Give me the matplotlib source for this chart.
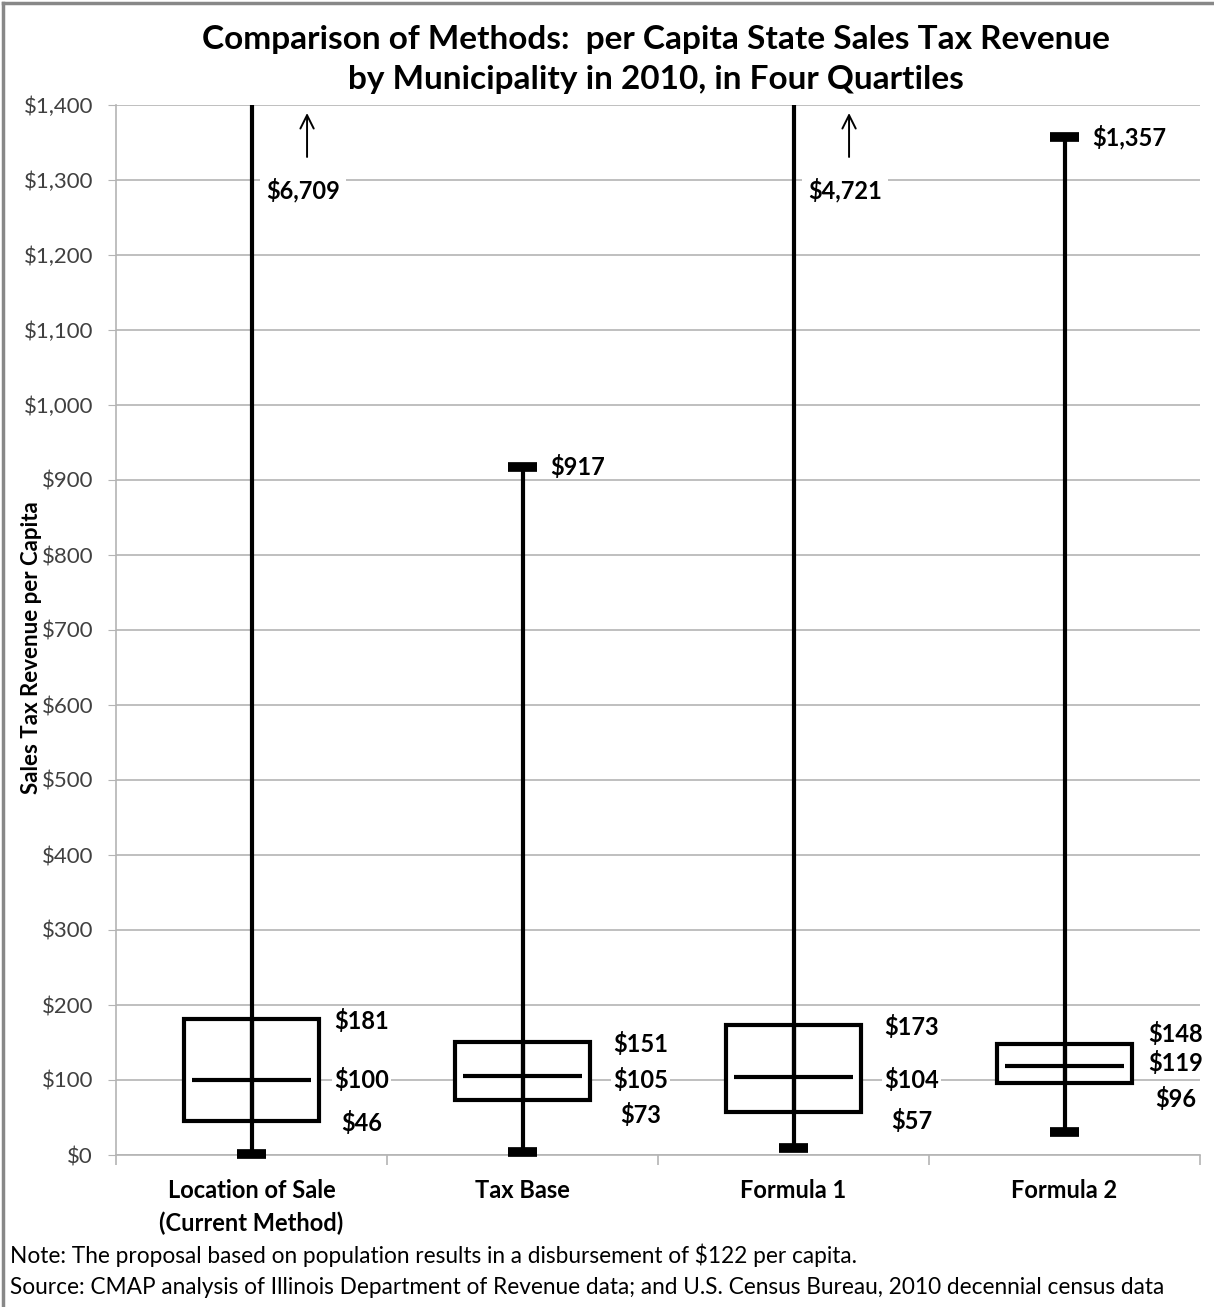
import matplotlib
matplotlib.use("Agg")
import matplotlib.pyplot as plt
from matplotlib.patches import Rectangle
from matplotlib.lines import Line2D
from matplotlib.ticker import FuncFormatter, MultipleLocator

# ---- data ----
categories = ["Location of Sale\n(Current Method)", "Tax Base", "Formula 1", "Formula 2"]
mins = [1, 4, 10, 31]
q1 = [46, 73, 57, 96]
medians = [100, 105, 104, 119]
q3 = [181, 151, 173, 148]
maxs = [6709, 917, 4721, 1357]
ymax = 1400

# ---- layout ----
FONT = "Lato"
plt.rcParams['font.family'] = [FONT, 'DejaVu Sans']
fig = plt.figure(figsize=(12.14, 13.07), dpi=100)
ax = fig.add_axes([116/1214, 1-1155/1307, (1200-116)/1214, (1155-105)/1307])

grid_c = "#b4b4b4"
ax.set_xlim(-0.5, 3.5)
ax.set_ylim(0, ymax)
ax.yaxis.set_major_locator(MultipleLocator(100))
ax.yaxis.set_major_formatter(FuncFormatter(lambda v, p: "${:,.0f}".format(v)))
ax.grid(axis='y', color=grid_c, linewidth=1.2, zorder=0)
ax.set_axisbelow(True)
for s in ['top', 'right']:
    ax.spines[s].set_visible(False)
for s in ['left', 'bottom']:
    ax.spines[s].set_color(grid_c)
    ax.spines[s].set_linewidth(1.2)
ax.tick_params(axis='y', length=6, color=grid_c, labelsize=16, pad=10.5)
ax.set_xticks([0, 1, 2, 3])
ax.set_xticks([-0.5, 0.5, 1.5, 2.5, 3.5], minor=True)
ax.set_xticklabels(categories, fontsize=17, fontweight='bold', linespacing=1.5)
ax.tick_params(axis='x', which='major', length=0, pad=17)
ax.tick_params(axis='x', which='minor', length=7, color=grid_c, width=1.2)
for lab in ax.get_yticklabels():
    lab.set_color('#404040')

box_w = 0.5
med_w = 0.44
cap_w = 0.11
lw = 3.0
for i in range(len(categories)):
    top = min(maxs[i], ymax)
    ax.vlines(i, mins[i], top, colors='black', linewidth=lw, zorder=3, clip_on=True)
    ax.add_patch(Rectangle((i - box_w/2, q1[i]), box_w, q3[i]-q1[i], fill=True,
                           facecolor='white', edgecolor='black', linewidth=lw, zorder=2))
    ax.vlines(i, q1[i], q3[i], colors='black', linewidth=lw, zorder=3)
    ax.hlines(medians[i], i - med_w/2, i + med_w/2, colors='black', linewidth=lw, zorder=4)
    ax.hlines(mins[i], i - cap_w/2, i + cap_w/2, colors='black', linewidth=7, zorder=4,
              clip_on=False)
    if maxs[i] <= ymax:
        ax.hlines(maxs[i], i - cap_w/2, i + cap_w/2, colors='black', linewidth=7, zorder=4)

# quartile labels
lab_dx = [0.406, 0.435, 0.437, 0.41]
lab_dy_q3 = [-2, -3, -3, 13]
lab_dy_med = [0, -5, -4, 4]
lab_dy_q1 = [-3, -19, -12, -21]
bb = dict(facecolor='white', edgecolor='none', pad=1.5)
for i in range(len(categories)):
    x = i + lab_dx[i]
    for v, dy in [(q3[i], lab_dy_q3[i]), (medians[i], lab_dy_med[i]), (q1[i], lab_dy_q1[i])]:
        ax.text(x, v + dy, "${:,}".format(v), ha='center', va='center', fontsize=17,
                fontweight='bold', bbox=bb, zorder=5)
    if maxs[i] <= ymax:
        ax.text(i + cap_w/2 + 0.046, maxs[i], "${:,}".format(maxs[i]), ha='left', va='center',
                fontsize=17, fontweight='bold', zorder=5)
    else:
        ax.annotate("", xy=(i + 0.205, 1393), xytext=(i + 0.205, 1327),
                    arrowprops=dict(arrowstyle='->', color='black', lw=1.4, mutation_scale=24),
                    zorder=5)
        ax.text(i + 0.19, 1287, "${:,}".format(maxs[i]), ha='center', va='center',
                fontsize=17, fontweight='bold', bbox=dict(facecolor='white', edgecolor='none', pad=4),
                zorder=5)

ax.set_ylabel("Sales Tax Revenue per Capita", fontsize=16, fontweight='bold', labelpad=0)
ax.yaxis.set_label_coords(-0.068, 0.483)

fig.text(656/1214, 1-40/1307, "Comparison of Methods:  per Capita State Sales Tax Revenue",
         ha='center', va='center', fontsize=24, fontweight='bold')
fig.text(656/1214, 1-80/1307, "by Municipality in 2010, in Four Quartiles",
         ha='center', va='center', fontsize=24, fontweight='bold')
fig.text(10/1214, 1-1255/1307,
         "Note: The proposal based on population results in a disbursement of $122 per capita.",
         ha='left', va='center', fontsize=16.3)
fig.text(10/1214, 1-1288/1307,
         "Source: CMAP analysis of Illinois Department of Revenue data; and U.S. Census Bureau, 2010 decennial census data",
         ha='left', va='center', fontsize=16.3)

# chart border (top & left)
fig.add_artist(Line2D([3/1214, 3/1214], [0, 1-3/1307], color='#888888', linewidth=2.5))
fig.add_artist(Line2D([3/1214, 1], [1-3/1307, 1-3/1307], color='#888888', linewidth=2.5))

fig.savefig("out.png", dpi=100)
